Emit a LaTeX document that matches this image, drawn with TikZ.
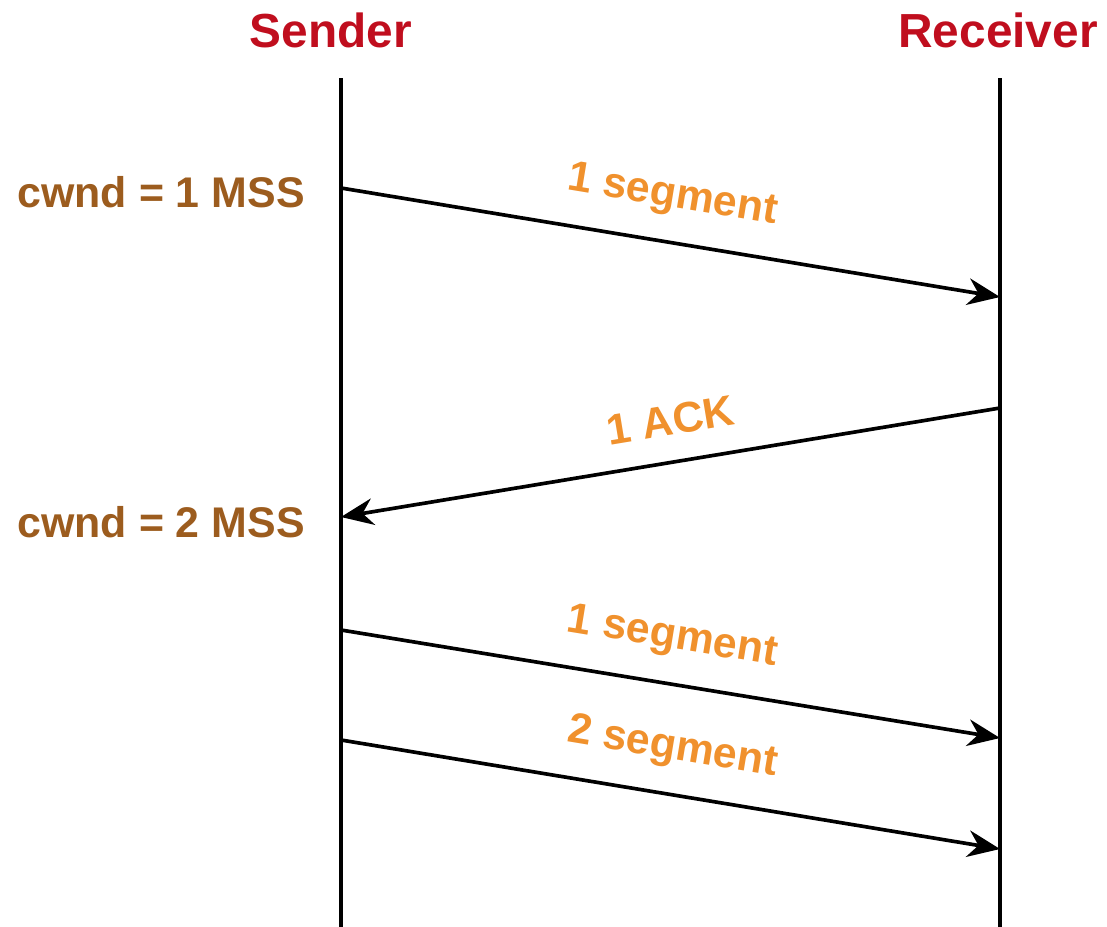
\documentclass[tikz,border=0pt]{standalone}
\usepackage{fontspec}
\setmainfont{Liberation Sans}
\usetikzlibrary{arrows.meta}
\definecolor{titlered}{RGB}{192,14,30}
\definecolor{cwndbrown}{RGB}{156,92,30}
\definecolor{msgorange}{RGB}{240,145,45}
\begin{document}
\begin{tikzpicture} [x=0.025cm,y=-0.025cm,
			>={Stealth[length=23pt,width=19pt]},
			actor/.style={text=titlered,font=\fontsize{34}{40}\selectfont\bfseries,inner sep=0pt},
			window/.style={text=cwndbrown,font=\fontsize{30.5}{36}\selectfont\bfseries,inner sep=0pt,anchor=east},
			lifeline/.style={line width=2.6pt},
			message/.style={->,line width=2.6pt},
			msglabel/.style={text=msgorange,font=\fontsize{30.5}{36}\selectfont\bfseries,sloped,midway}
			]
		\useasboundingbox (0,0) rectangle (1107,927);
		%\draw[step=50, color=gray] (0,0) grid (1107,927);
		\node [actor] (snd) at (331,30) {Sender};
		\node [actor] (rcv) at (998,30) {Receiver};

		\coordinate (sndtop) at (341,78);
		\coordinate (sndbot) at (341,927);
		\coordinate (rcvtop) at (1000,78);
		\coordinate (rcvbot) at (1000,927);
		\draw [lifeline] (sndtop) -- (sndbot);
		\draw [lifeline] (rcvtop) -- (rcvbot);

		\node [window] (cw1) at (305,192) {cwnd = 1 MSS};
		\node [window] (cw2) at (305,522) {cwnd = 2 MSS};

		% sender side
		\coordinate (s1) at (341,188);
		\coordinate (s2) at (341,517);
		\coordinate (s3) at (341,630);
		\coordinate (s4) at (341,740);
		% receiver side
		\coordinate (r1) at (1000,297);
		\coordinate (r2) at (1000,408);
		\coordinate (r3) at (1000,738);
		\coordinate (r4) at (1000,849);

		\draw [message] (s1) -- node [msglabel, above=14pt, xshift=-4pt] (seg1) {1 segment} (r1);
		\draw [message] (r2) -- node [msglabel, above=14pt, xshift=5pt] (ack1) {1 ACK} (s2);
		\draw [message] (s3) -- node [msglabel, above=14pt, xshift=-4pt] (seg2) {1 segment} (r3);
		\draw [message] (s4) -- node [msglabel, above=14pt, xshift=-4pt] (seg3) {2 segment} (r4);
		\end{tikzpicture}
\end{document}
